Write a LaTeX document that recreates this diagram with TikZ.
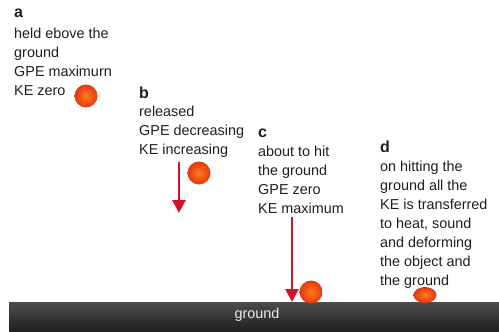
\documentclass[tikz,border=0pt]{standalone}
\usepackage{fontspec}
\setmainfont{Liberation Sans}
\usetikzlibrary{arrows.meta,shadings}
\definecolor{txt}{HTML}{1E1E1E}
\definecolor{ballout}{HTML}{E2380E}
\definecolor{ballin}{HTML}{FF7A20}
\definecolor{arrred}{HTML}{D8102C}
\tikzset{
  desc/.style={anchor=base west, inner sep=0pt, align=left, text=txt,
    font=\fontsize{14.4}{19}\selectfont},
  lbl/.style={anchor=base west, inner sep=0pt, text=txt,
    font=\fontsize{16}{18}\selectfont\bfseries},
  ball/.style={inner color=ballin, outer color=ballout, draw=none},
  fall/.style={draw=arrred, line width=2.8pt,
    -{Triangle[width=13pt,length=13pt]}}
}
\begin{document}
\begin{tikzpicture}[x=1pt,y=-1pt]
\useasboundingbox (0,0) rectangle (499,332);
% ground
\shade[top color=black!70, bottom color=black!88] (9,302) rectangle (499,332);
\node[text=white!92!black, font=\fontsize{14.4}{16}\selectfont] (g) at (257,315) {ground};
% a (base anchor = last line's baseline)
\node[lbl] (la) at (14,17) {a};
\node[desc] (ta) at (14,95) {held ebove the\\ground\\GPE maximurn\\KE zero};
\shade[ball] (86,96) circle (11.5);
% b
\node[lbl] (lb) at (139,98) {b};
\node[desc] (tb) at (139,154) {released\\GPE decreasing\\KE increasing};
\shade[ball] (199,173) circle (11.5);
\coordinate (b1) at (179,162);
\coordinate (b2) at (179,213);
\draw[fall] (b1) -- (b2);
% c
\node[lbl] (lc) at (258,137) {c};
\node[desc] (tc) at (258,213) {about to hit\\the ground\\GPE zero\\KE maximum};
\shade[ball] (311,292) circle (11.5);
\coordinate (c1) at (292,217);
\coordinate (c2) at (292,302);
\draw[fall] (c1) -- (c2);
% d
\node[lbl] (ld) at (380,152) {d};
\node[desc] (td) at (380,285) {on hitting the\\ground all the\\KE is transferred\\to heat, sound\\and deforming\\the object and\\the ground};
\shade[ball] (425,295) ellipse (11.5 and 8);
\end{tikzpicture}
\end{document}
